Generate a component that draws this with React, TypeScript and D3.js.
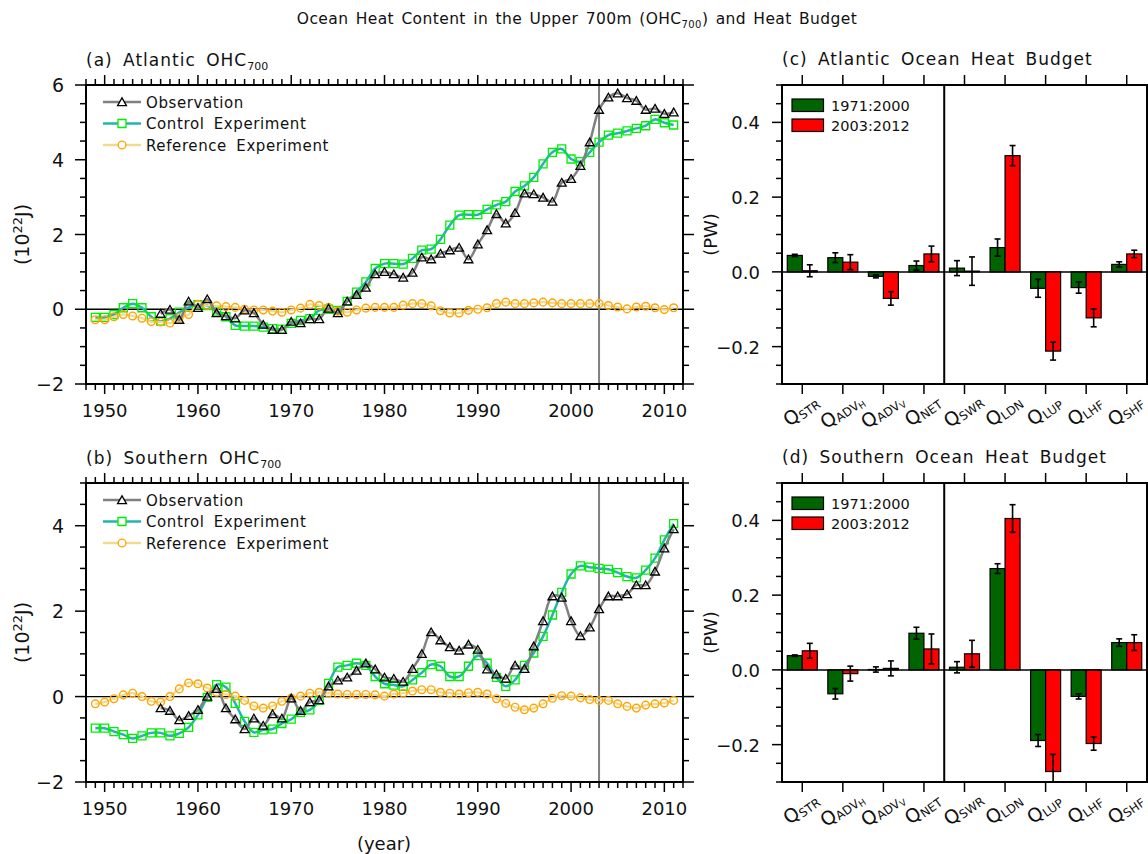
import * as d3 from "d3";
import React from "react";

const W = 1148;
const H = 854;
const FONT = "'DejaVu Sans', sans-serif";

// x axis of the time series panels
const years = d3.range(1949, 2012);
const obsYears = d3.range(1956, 2012);

// (a) Atlantic OHC700, 10^22 J
const atlObs = [
  -0.12, -0.01, -0.28, 0.21, 0.04, 0.27, -0.1, -0.18, -0.24, -0.03, -0.1, -0.41, -0.55, -0.55,
  -0.33, -0.37, -0.26, -0.26, 0.02, -0.1, 0.21, 0.39, 0.58, 0.94, 1.0, 0.94, 0.85, 0.98, 1.39,
  1.34, 1.49, 1.58, 1.65, 1.34, 1.74, 2.12, 2.55, 2.3, 2.58, 3.1, 3.08, 2.99, 2.88, 3.39, 3.49,
  3.84, 4.47, 5.34, 5.67, 5.78, 5.65, 5.58, 5.34, 5.37, 5.23, 5.27,
];
const atlCtl = [
  -0.22, -0.22, -0.14, 0.04, 0.15, 0.04, -0.2, -0.32, -0.25, -0.08, 0.05, 0.12, 0.1, -0.05, -0.2,
  -0.43, -0.45, -0.45, -0.48, -0.52, -0.53, -0.38, -0.3, -0.25, -0.03, 0.0, -0.03, 0.21, 0.46,
  0.73, 1.09, 1.22, 1.22, 1.21, 1.36, 1.58, 1.61, 1.87, 2.25, 2.52, 2.53, 2.53, 2.67, 2.79, 2.88,
  3.15, 3.3, 3.53, 3.89, 4.2, 4.29, 4.02, 3.95, 4.2, 4.47, 4.66, 4.71, 4.77, 4.84, 4.91, 5.08,
  4.99, 4.93,
];
const atlRef = [
  -0.28, -0.28, -0.2, -0.14, -0.18, -0.24, -0.33, -0.34, -0.37, -0.22, -0.14, 0.13, 0.1, 0.09,
  0.07, 0.05, 0.0, -0.02, -0.02, -0.05, -0.08, -0.02, 0.03, 0.13, 0.1, 0.05, -0.05, -0.08, -0.02,
  0.03, 0.05, 0.05, 0.05, 0.11, 0.15, 0.15, 0.09, -0.04, -0.1, -0.1, -0.03, 0.0, 0.04, 0.15, 0.19,
  0.15, 0.15, 0.17, 0.19, 0.17, 0.15, 0.15, 0.15, 0.15, 0.15, 0.1, 0.06, 0.01, 0.06, 0.08, 0.04,
  -0.01, 0.04,
];

// (b) Southern OHC700, 10^22 J
const soObs = [
  -0.27, -0.33, -0.55, -0.45, -0.31, 0.0, 0.18, -0.27, -0.53, -0.76, -0.51, -0.68, -0.41, -0.51,
  -0.04, -0.33, -0.13, -0.08, 0.24, 0.38, 0.45, 0.61, 0.78, 0.64, 0.45, 0.42, 0.35, 0.65, 1.0,
  1.51, 1.32, 1.16, 1.08, 1.22, 1.1, 0.64, 0.52, 0.42, 0.73, 0.65, 1.18, 1.77, 2.35, 2.32, 1.77,
  1.42, 1.62, 2.05, 2.35, 2.35, 2.4, 2.61, 2.61, 2.93, 3.47, 3.92,
];
const soCtl = [
  -0.74, -0.74, -0.82, -0.89, -0.98, -0.92, -0.85, -0.85, -0.92, -0.86, -0.72, -0.43, -0.02, 0.28,
  0.22, -0.16, -0.58, -0.84, -0.78, -0.76, -0.63, -0.53, -0.37, -0.31, -0.09, 0.31, 0.69, 0.73,
  0.78, 0.73, 0.47, 0.3, 0.27, 0.24, 0.39, 0.56, 0.75, 0.71, 0.47, 0.47, 0.71, 0.96, 0.78, 0.45,
  0.24, 0.39, 0.73, 1.02, 1.41, 1.91, 2.44, 2.87, 3.06, 3.03, 3.0, 2.98, 2.9, 2.81, 2.78, 2.96,
  3.24, 3.67, 4.05,
];
const soRef = [
  -0.17, -0.13, -0.05, 0.04, 0.08, 0.0, -0.11, -0.13, 0.0, 0.18, 0.32, 0.3, 0.2, 0.1, 0.05, 0.01,
  -0.09, -0.22, -0.27, -0.22, -0.11, -0.04, 0.01, 0.08, 0.1, 0.08, 0.06, 0.05, 0.05, 0.05, 0.04,
  0.01, 0.06, 0.08, 0.13, 0.16, 0.16, 0.1, 0.08, 0.06, 0.09, 0.1, 0.06, -0.05, -0.16, -0.25,
  -0.31, -0.27, -0.17, -0.04, 0.02, 0.01, -0.03, -0.07, -0.09, -0.09, -0.17, -0.23, -0.27, -0.2,
  -0.17, -0.15, -0.09,
];

// heat budget terms, PW
const budgetTerms = ["STR", "ADVH", "ADVV", "NET", "SWR", "LDN", "LUP", "LHF", "SHF"];
const periods = ["1971:2000", "2003:2012"];

const atlEarly = [0.044, 0.038, -0.012, 0.017, 0.01, 0.065, -0.044, -0.042, 0.02];
const atlEarlyErr = [0.003, 0.013, 0.004, 0.012, 0.02, 0.023, 0.024, 0.015, 0.007];
const atlLate = [0.003, 0.026, -0.071, 0.048, 0.002, 0.311, -0.212, -0.123, 0.048];
const atlLateErr = [0.016, 0.02, 0.018, 0.021, 0.038, 0.027, 0.024, 0.024, 0.01];

const soEarly = [0.038, -0.064, 0.001, 0.098, 0.007, 0.271, -0.189, -0.071, 0.073];
const soEarlyErr = [0.002, 0.014, 0.007, 0.016, 0.015, 0.013, 0.016, 0.007, 0.01];
const soLate = [0.051, -0.01, 0.004, 0.056, 0.043, 0.405, -0.272, -0.197, 0.073];
const soLateErr = [0.02, 0.02, 0.02, 0.04, 0.036, 0.037, 0.046, 0.018, 0.021];

const OBS_COLOR = "#808080";
const CTL_COLOR = "#22b4ae";
const CTL_MARK = "#00ee00";
const REF_COLOR = "#f1d98e";
const REF_MARK = "#ffa500";
const EARLY_COLOR = "#006400";
const LATE_COLOR = "#ff0000";

const triPath = d3.symbol(d3.symbolTriangle, 34)();
const sqPath = d3.symbol(d3.symbolSquare, 64)();
const circPath = d3.symbol(d3.symbolCircle, 46)();

const LinePanel = ({ top, bottom, yMin, yMax, obs, ctl, rf, id, children }) => {
  const left = 86;
  const right = 683;
  const x = d3.scaleLinear().domain([1948, 2012]).range([left, right]);
  const y = d3.scaleLinear().domain([yMin, yMax]).range([bottom, top]);
  const line = d3
    .line<[number, number]>()
    .x((d) => x(d[0]))
    .y((d) => y(d[1]))
    .curve(d3.curveCatmullRom.alpha(0.5));

  const obsPts: [number, number][] = obsYears.map((yr, i) => [yr, obs[i]]);
  const ctlPts: [number, number][] = years.map((yr, i) => [yr, ctl[i]]);
  const refPts: [number, number][] = years.map((yr, i) => [yr, rf[i]]);

  const minorX = d3.range(1948, 2013);
  const majorX = d3.range(1950, 2011, 10);
  const minorY = d3.range(yMin, yMax + 0.001, 0.5);
  const majorY = d3.range(-2, yMax + 0.001, 2);

  const legend = [
    { label: "Observation", color: OBS_COLOR, mark: triPath, mcol: "#000" },
    { label: "Control Experiment", color: CTL_COLOR, mark: sqPath, mcol: CTL_MARK },
    { label: "Reference Experiment", color: REF_COLOR, mark: circPath, mcol: REF_MARK },
  ];

  return (
    <g>
      <defs>
        <clipPath id={id}>
          <rect x={left} y={top} width={right - left} height={bottom - top} />
        </clipPath>
      </defs>
      {/* zero line and 2003 marker */}
      <line x1={left} x2={right} y1={y(0)} y2={y(0)} stroke="#000" strokeWidth={1.3} />
      <line x1={x(2003)} x2={x(2003)} y1={top} y2={bottom} stroke={OBS_COLOR} strokeWidth={2} />
      <g clipPath={`url(#${id})`}>
        <path d={line(ctlPts)} fill="none" stroke={CTL_COLOR} strokeWidth={2.5} />
        {ctlPts.map((d, i) => (
          <path key={i} d={sqPath} transform={`translate(${x(d[0])},${y(d[1])})`} fill="none" stroke={CTL_MARK} strokeWidth={1.3} />
        ))}
        <path d={line(refPts)} fill="none" stroke={REF_COLOR} strokeWidth={2.2} />
        {refPts.map((d, i) => (
          <path key={i} d={circPath} transform={`translate(${x(d[0])},${y(d[1])})`} fill="none" stroke={REF_MARK} strokeWidth={1.4} />
        ))}
        <path d={line(obsPts)} fill="none" stroke={OBS_COLOR} strokeWidth={2.5} />
        {obsPts.map((d, i) => (
          <path key={i} d={triPath} transform={`translate(${x(d[0])},${y(d[1]) + 1})`} fill="none" stroke="#000" strokeWidth={1.3} />
        ))}
      </g>
      {/* legend */}
      {legend.map((l, i) => {
        const ly = top + 17 + i * 21.5;
        return (
          <g key={l.label}>
            <line x1={103} x2={141} y1={ly} y2={ly} stroke={l.color} strokeWidth={2.5} />
            <path d={l.mark} transform={`translate(122,${ly + (i === 0 ? 1 : 0)})`} fill="#fff" stroke={l.mcol} strokeWidth={1.3} />
            <text x={146} y={ly + 5.5} fontSize={15} letterSpacing={0.6} wordSpacing={4} fontFamily={FONT} fill="#111">
              {l.label}
            </text>
          </g>
        );
      })}
      {/* frame */}
      <rect x={left} y={top} width={right - left} height={bottom - top} fill="none" stroke="#000" strokeWidth={2} />
      {/* x ticks, outward on top and bottom */}
      {minorX.map((yr) => {
        const len = majorX.includes(yr) ? 10 : 6;
        return (
          <g key={yr} stroke="#000" strokeWidth={1.5}>
            <line x1={x(yr)} x2={x(yr)} y1={top} y2={top - len} />
            <line x1={x(yr)} x2={x(yr)} y1={bottom} y2={bottom + len} />
          </g>
        );
      })}
      {majorX.map((yr) => (
        <text key={yr} x={x(yr)} y={bottom + 33} textAnchor="middle" fontSize={18} fontFamily={FONT} fill="#111">
          {yr}
        </text>
      ))}
      {/* y ticks, outward on left and right */}
      {minorY.map((v) => {
        const len = majorY.some((m) => Math.abs(m - v) < 1e-6) ? 11 : 6;
        return (
          <g key={v} stroke="#000" strokeWidth={1.5}>
            <line x1={left} x2={left - len} y1={y(v)} y2={y(v)} />
            <line x1={right} x2={right + len} y1={y(v)} y2={y(v)} />
          </g>
        );
      })}
      {majorY.map((v) => (
        <text key={v} x={64} y={y(v) + 7} textAnchor="end" fontSize={19} fontFamily={FONT} fill="#111">
          {d3.format("d")(v)}
        </text>
      ))}
      <text transform={`translate(29,${(top + bottom) / 2}) rotate(-90)`} textAnchor="middle" fontSize={19} fontFamily={FONT} fill="#111">
        (10<tspan dy={-7} fontSize={13}>22</tspan>
        <tspan dy={7}>J)</tspan>
      </text>
      {children}
    </g>
  );
};

const termLabel = (t) => {
  if (t === "ADVH" || t === "ADVV") {
    return (
      <>
        <tspan>Q</tspan>
        <tspan dy={2} fontSize={12}>ADV</tspan>
        <tspan dy={2} fontSize={9}>{t.slice(3)}</tspan>
      </>
    );
  }
  return (
    <>
      <tspan>Q</tspan>
      <tspan dy={2} fontSize={12}>{t}</tspan>
    </>
  );
};

const BudgetPanel = ({ top, bottom, early, earlyErr, late, lateErr, id, children }) => {
  const left = 782;
  const right = 1147;
  const x = d3.scaleBand().domain(budgetTerms).range([left, right]).paddingInner(0.26).paddingOuter(0.13);
  const sub = d3.scaleBand().domain(periods).range([0, x.bandwidth()]);
  const y = d3.scaleLinear().domain([-0.3, 0.5]).range([bottom, top]);
  const series = [
    { key: periods[0], vals: early, errs: earlyErr, color: EARLY_COLOR },
    { key: periods[1], vals: late, errs: lateErr, color: LATE_COLOR },
  ];
  const minorY = d3.range(-0.3, 0.5001, 0.05);
  const majorY = [-0.2, 0, 0.2, 0.4];
  const divider = left + x.step() * 4;

  return (
    <g>
      <defs>
        <clipPath id={id}>
          <rect x={left} y={top} width={right - left} height={bottom - top} />
        </clipPath>
      </defs>
      <g clipPath={`url(#${id})`}>
        {series.map((s) =>
          budgetTerms.map((t, i) => {
            const bx = x(t) + sub(s.key);
            const v = s.vals[i];
            return (
              <rect key={s.key + t} x={bx} y={y(Math.max(0, v))} width={sub.bandwidth()} height={Math.abs(y(v) - y(0))} fill={s.color} stroke="#000" strokeWidth={1.2} />
            );
          })
        )}
        <line x1={left} x2={right} y1={y(0)} y2={y(0)} stroke="#000" strokeWidth={1.5} />
        {series.map((s) =>
          budgetTerms.map((t, i) => {
            const cx = x(t) + sub(s.key) + sub.bandwidth() / 2;
            const v = s.vals[i];
            const e = s.errs[i];
            return (
              <g key={s.key + t + "e"} stroke="#000" strokeWidth={1.6}>
                <line x1={cx} x2={cx} y1={y(v + e)} y2={y(v - e)} />
                <line x1={cx - 3} x2={cx + 3} y1={y(v + e)} y2={y(v + e)} />
                <line x1={cx - 3} x2={cx + 3} y1={y(v - e)} y2={y(v - e)} />
              </g>
            );
          })
        )}
      </g>
      <line x1={divider} x2={divider} y1={top} y2={bottom} stroke="#000" strokeWidth={2} />
      <rect x={left} y={top} width={right - left} height={bottom - top} fill="none" stroke="#000" strokeWidth={2} />
      {/* legend */}
      {series.map((s, i) => (
        <g key={s.key}>
          <rect x={left + 10} y={top + 14 + i * 20} width={31.5} height={12.5} fill={s.color} stroke="#000" strokeWidth={1.2} />
          <text x={left + 49} y={top + 26 + i * 20} fontSize={14.5} fontFamily={FONT} fill="#111">
            {s.key}
          </text>
        </g>
      ))}
      {/* category ticks and labels */}
      {budgetTerms.map((t) => {
        const cx = x(t) + x.bandwidth() / 2;
        return (
          <g key={t}>
            <line x1={cx} x2={cx} y1={top} y2={top - 10} stroke="#000" strokeWidth={1.5} />
            <line x1={cx} x2={cx} y1={bottom} y2={bottom + 10} stroke="#000" strokeWidth={1.5} />
            <g transform={`translate(${cx - 1},${bottom + 27}) rotate(-35)`}>
              <text x={0} y={6} textAnchor="middle" fontSize={19} fontFamily={FONT} fill="#111">
                {termLabel(t)}
              </text>
            </g>
          </g>
        );
      })}
      {minorY.map((v) => {
        const len = majorY.some((m) => Math.abs(m - v) < 1e-6) ? 10 : 6;
        return <line key={v} x1={left} x2={left - len} y1={y(v)} y2={y(v)} stroke="#000" strokeWidth={1.5} />;
      })}
      {majorY.map((v) => (
        <text key={v} x={760} y={y(v) + 7} textAnchor="end" fontSize={18} fontFamily={FONT} fill="#111">
          {d3.format(".1f")(v)}
        </text>
      ))}
      <text transform={`translate(717,${(top + bottom) / 2}) rotate(-90)`} textAnchor="middle" fontSize={18} fontFamily={FONT} fill="#111">
        (PW)
      </text>
      {children}
    </g>
  );
};

const App = () => {
  return (
    <svg width={W} height={H} style={{ position: "absolute", left: 0, top: 0, background: "#fff" }} fontFamily={FONT}>
      <rect width={W} height={H} fill="#fff" />
      <text x={577} y={24} textAnchor="middle" fontSize={15.5} letterSpacing={0.4} wordSpacing={2} fill="#111">
        Ocean Heat Content in the Upper 700m (OHC<tspan dy={4} fontSize={10}>700</tspan>
        <tspan dy={-4}>) and Heat Budget</tspan>
      </text>

      <LinePanel top={85} bottom={384} yMin={-2} yMax={6} obs={atlObs} ctl={atlCtl} rf={atlRef} id="clipA">
        <text x={86} y={66} fontSize={17} letterSpacing={1} wordSpacing={4} fill="#111">
          (a) Atlantic OHC<tspan dy={4} fontSize={11} letterSpacing={0}>700</tspan>
        </text>
      </LinePanel>
      <LinePanel top={483} bottom={782} yMin={-2} yMax={5} obs={soObs} ctl={soCtl} rf={soRef} id="clipB">
        <text x={86} y={464} fontSize={17} letterSpacing={1} wordSpacing={4} fill="#111">
          (b) Southern OHC<tspan dy={4} fontSize={11} letterSpacing={0}>700</tspan>
        </text>
      </LinePanel>
      <text x={384} y={850} textAnchor="middle" fontSize={18} fill="#111">
        (year)
      </text>

      <BudgetPanel top={85} bottom={384} early={atlEarly} earlyErr={atlEarlyErr} late={atlLate} lateErr={atlLateErr} id="clipC">
        <text x={782} y={65} fontSize={17} letterSpacing={1} wordSpacing={4} fill="#111">
          (c) Atlantic Ocean Heat Budget
        </text>
      </BudgetPanel>
      <BudgetPanel top={483} bottom={782} early={soEarly} earlyErr={soEarlyErr} late={soLate} lateErr={soLateErr} id="clipD">
        <text x={782} y={463} fontSize={17} letterSpacing={1} wordSpacing={4} fill="#111">
          (d) Southern Ocean Heat Budget
        </text>
      </BudgetPanel>
    </svg>
  );
};

export default App;
